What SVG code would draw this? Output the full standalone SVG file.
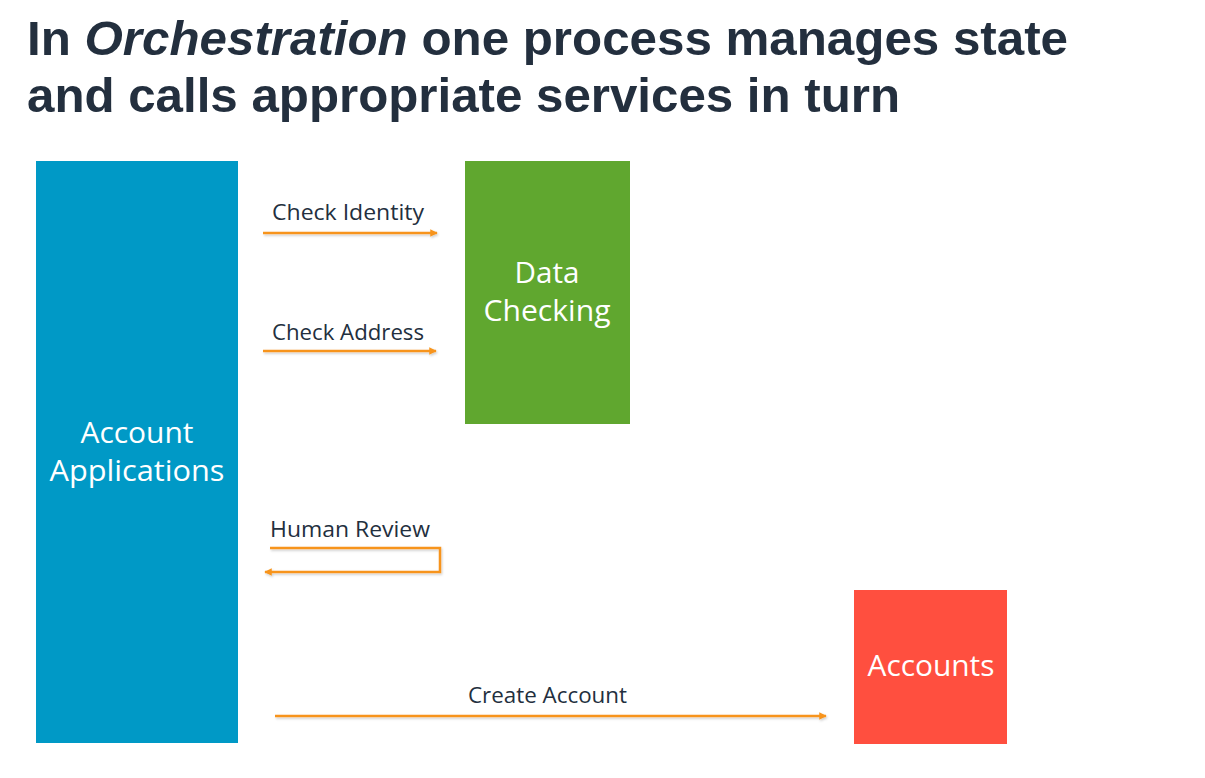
<svg xmlns="http://www.w3.org/2000/svg" width="1205" height="778" viewBox="0 0 1205 778">
  <defs>
    <style>
      .title { font-family: "Liberation Sans", Arial, sans-serif; font-weight: bold; font-size: 48px; fill: #232F3E; }
      .lbl { font-family: "Open Sans", "Noto Sans", sans-serif; font-size: 21px; fill: #232F3E; }
      .box-text { font-family: "Open Sans", "Noto Sans", sans-serif; font-size: 29px; font-weight: 500; fill: #FFFFFF; text-anchor: middle; }
      .flow { fill: none; stroke: #F7941D; stroke-width: 2.5; filter: url(#soft); }
    </style>
    <marker id="tip" viewBox="0 0 10 10" refX="9" refY="5" markerWidth="3" markerHeight="3" orient="auto-start-reverse" markerUnits="strokeWidth">
      <path d="M0,0 L10,5 L0,10 Z" fill="#F7941D"/>
    </marker>
    <filter id="soft" filterUnits="userSpaceOnUse" x="0" y="0" width="1205" height="778">
      <feDropShadow dx="1" dy="1.5" stdDeviation="1" flood-color="#000" flood-opacity="0.2"/>
    </filter>
  </defs>

  <rect width="1205" height="778" fill="#FFFFFF"/>

  <!-- heading -->
  <text class="title" x="27" y="55" textLength="1041" lengthAdjust="spacingAndGlyphs">In <tspan font-style="italic">Orchestration</tspan> one process manages state</text>
  <text class="title" x="27" y="112" textLength="873" lengthAdjust="spacingAndGlyphs">and calls appropriate services in turn</text>

  <!-- services -->
  <g id="account-applications">
    <rect x="36" y="161" width="202" height="582" fill="#0099C6"/>
    <text class="box-text" x="137" y="443" textLength="113" lengthAdjust="spacingAndGlyphs">Account</text>
    <text class="box-text" x="137" y="481" textLength="175" lengthAdjust="spacingAndGlyphs">Applications</text>
  </g>
  <g id="data-checking">
    <rect x="465" y="161" width="165" height="263" fill="#60A72F"/>
    <text class="box-text" x="547" y="283" textLength="65" lengthAdjust="spacingAndGlyphs">Data</text>
    <text class="box-text" x="547" y="321" textLength="127" lengthAdjust="spacingAndGlyphs">Checking</text>
  </g>
  <g id="accounts">
    <rect x="854" y="590" width="153" height="154" fill="#FF4F3F"/>
    <text class="box-text" x="931" y="676" textLength="127" lengthAdjust="spacingAndGlyphs">Accounts</text>
  </g>

  <!-- calls -->
  <g id="connectors">
    <path class="flow" d="M263,233 H437" marker-end="url(#tip)"/>
    <path class="flow" d="M263,351 H436" marker-end="url(#tip)"/>
    <path class="flow" d="M270,548 H440 V572 H265" marker-end="url(#tip)"/>
    <path class="flow" d="M275,716 H826" marker-end="url(#tip)"/>
  </g>

  <!-- call labels -->
  <g id="labels">
    <text class="lbl" x="272" y="220" textLength="152" lengthAdjust="spacingAndGlyphs">Check Identity</text>
    <text class="lbl" x="272" y="340" textLength="152" lengthAdjust="spacingAndGlyphs">Check Address</text>
    <text class="lbl" x="270" y="537" fill="#000" textLength="160" lengthAdjust="spacingAndGlyphs">Human Review</text>
    <text class="lbl" x="468" y="703" textLength="159" lengthAdjust="spacingAndGlyphs">Create Account</text>
  </g>
</svg>
